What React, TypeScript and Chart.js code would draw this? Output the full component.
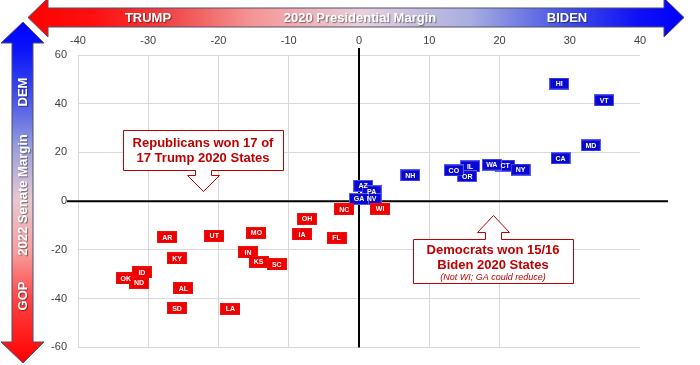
import React, { useEffect, useRef } from "react";
import { Chart, registerables } from "chart.js";

Chart.register(...registerables);

// ---------- data ----------
const redStates = ["OK", "ID", "ND", "AR", "KY", "AL", "SD", "UT", "LA", "MO", "IN", "KS", "SC", "OH", "IA", "FL", "NC", "WI"];
const redX = [-33.2, -30.9, -31.3, -27.3, -25.9, -25.0, -25.9, -20.6, -18.3, -14.6, -15.8, -14.3, -11.7, -7.4, -8.1, -3.2, -2.1, 3.0];
const redY = [-31.7, -29.2, -33.5, -14.8, -23.5, -35.7, -43.9, -14.2, -44.2, -13.0, -21.0, -24.9, -25.9, -7.3, -13.6, -15.1, -3.3, -3.0];

const blueStates = ["AZ", "PA", "NV", "GA", "NH", "IL", "OR", "CO", "CT", "WA", "NY", "CA", "MD", "VT", "HI"];
const blueX = [0.6, 1.8, 1.8, 0.0, 7.3, 15.8, 15.4, 13.5, 20.8, 18.9, 23.0, 28.7, 33.0, 34.9, 28.5];
const blueY = [6.3, 4.1, 0.9, 0.9, 10.6, 14.3, 10.3, 12.6, 14.6, 15.0, 13.0, 17.6, 22.9, 41.4, 48.3];

const xTitle = "2020 Presidential Margin";
const xLeftLabel = "TRUMP";
const xRightLabel = "BIDEN";
const yTitle = "2022 Senate Margin";
const yTopLabel = "DEM";
const yBottomLabel = "GOP";
const repNote = ["Republicans won 17 of", "17 Trump 2020 States"];
const demNote = ["Democrats won 15/16", "Biden 2020 States"];
const demSubNote = "(Not WI; GA could reduce)";

const FONT = 'Arial, "Liberation Sans", sans-serif';
const NOTE_RED = "#c00000";

function makeBox(fill: string, stroke: string) {
  const c = document.createElement("canvas");
  c.width = 20;
  c.height = 12;
  const g = c.getContext("2d")!;
  g.fillStyle = fill;
  g.fillRect(0, 0, 20, 12);
  g.strokeStyle = stroke;
  g.lineWidth = 1;
  g.strokeRect(0.5, 0.5, 19, 11);
  return c;
}

function drawArrowsAndNotes(ctx: CanvasRenderingContext2D) {
  // ---- vertical arrow (left) ----
  ctx.save();
  const vg = ctx.createLinearGradient(0, 22, 0, 363);
  vg.addColorStop(0, "#0000ff");
  vg.addColorStop(0.08, "#0a14fa");
  vg.addColorStop(0.2, "#3a48ea");
  vg.addColorStop(0.37, "#9aa0dc");
  vg.addColorStop(0.52, "#e6c8d0");
  vg.addColorStop(0.67, "#f8a0a0");
  vg.addColorStop(0.82, "#ff4040");
  vg.addColorStop(1, "#ff0000");
  ctx.beginPath();
  ctx.moveTo(23, 22);
  ctx.lineTo(44, 43);
  ctx.lineTo(33, 43);
  ctx.lineTo(33, 342);
  ctx.lineTo(44, 342);
  ctx.lineTo(23, 363);
  ctx.lineTo(1, 342);
  ctx.lineTo(12, 342);
  ctx.lineTo(12, 43);
  ctx.lineTo(1, 43);
  ctx.closePath();
  ctx.fillStyle = vg;
  ctx.fill();
  ctx.strokeStyle = "#50506a";
  ctx.lineWidth = 1;
  ctx.stroke();
  ctx.restore();

  // ---- horizontal arrow (top) ----
  ctx.save();
  const hg = ctx.createLinearGradient(28, 0, 683, 0);
  hg.addColorStop(0, "#ff0000");
  hg.addColorStop(0.1, "#ff0f0f");
  hg.addColorStop(0.2, "#f03c3c");
  hg.addColorStop(0.34, "#f59494");
  hg.addColorStop(0.51, "#e8d0dc");
  hg.addColorStop(0.675, "#a8aee0");
  hg.addColorStop(0.82, "#4452e6");
  hg.addColorStop(0.93, "#1010f5");
  hg.addColorStop(1, "#0000ff");
  ctx.beginPath();
  ctx.moveTo(28, 17.5);
  ctx.lineTo(48, -2);
  ctx.lineTo(48, 8);
  ctx.lineTo(664, 8);
  ctx.lineTo(664, -2);
  ctx.lineTo(684, 17.5);
  ctx.lineTo(664, 37);
  ctx.lineTo(664, 27);
  ctx.lineTo(48, 27);
  ctx.lineTo(48, 37);
  ctx.closePath();
  ctx.strokeStyle = "#ffffff";
  ctx.lineWidth = 6;
  ctx.stroke();
  ctx.fillStyle = hg;
  ctx.fill();
  ctx.strokeStyle = "#50506a";
  ctx.lineWidth = 1;
  ctx.stroke();
  ctx.restore();

  // ---- arrow labels ----
  ctx.save();
  ctx.fillStyle = "#ffffff";
  ctx.font = `bold 13px ${FONT}`;
  ctx.textAlign = "center";
  ctx.textBaseline = "middle";
  ctx.shadowColor = "rgba(0,0,0,0.45)";
  ctx.shadowOffsetX = 1;
  ctx.shadowOffsetY = 1;
  ctx.shadowBlur = 1;
  ctx.fillText(xLeftLabel, 148, 18);
  ctx.fillText(xTitle, 360, 18);
  ctx.fillText(xRightLabel, 567, 18);
  const vText = (t: string, cx: number, cy: number) => {
    ctx.save();
    ctx.translate(cx, cy);
    ctx.rotate(-Math.PI / 2);
    ctx.fillText(t, 0, 0);
    ctx.restore();
  };
  vText(yTopLabel, 23, 92);
  vText(yTitle, 23, 195);
  vText(yBottomLabel, 23, 296);
  ctx.restore();

  // ---- callouts ----
  ctx.save();
  ctx.lineWidth = 1;
  ctx.strokeStyle = NOTE_RED;
  ctx.fillStyle = "#ffffff";
  // Republicans (down arrow)
  ctx.beginPath();
  ctx.moveTo(123.5, 130.5);
  ctx.lineTo(283.5, 130.5);
  ctx.lineTo(283.5, 170.5);
  ctx.lineTo(211.5, 170.5);
  ctx.lineTo(211.5, 175.5);
  ctx.lineTo(219.5, 175.5);
  ctx.lineTo(203.5, 191.5);
  ctx.lineTo(187.5, 175.5);
  ctx.lineTo(195.5, 175.5);
  ctx.lineTo(195.5, 170.5);
  ctx.lineTo(123.5, 170.5);
  ctx.closePath();
  ctx.fill();
  ctx.stroke();
  // Democrats (up arrow)
  ctx.beginPath();
  ctx.moveTo(413.5, 239.5);
  ctx.lineTo(485.5, 239.5);
  ctx.lineTo(485.5, 232.5);
  ctx.lineTo(477.5, 232.5);
  ctx.lineTo(493.5, 215.5);
  ctx.lineTo(509.5, 232.5);
  ctx.lineTo(501.5, 232.5);
  ctx.lineTo(501.5, 239.5);
  ctx.lineTo(573.5, 239.5);
  ctx.lineTo(573.5, 283.5);
  ctx.lineTo(413.5, 283.5);
  ctx.closePath();
  ctx.fill();
  ctx.stroke();

  ctx.fillStyle = NOTE_RED;
  ctx.textAlign = "center";
  ctx.textBaseline = "middle";
  ctx.font = `bold 13px ${FONT}`;
  ctx.fillText(repNote[0], 203, 143);
  ctx.fillText(repNote[1], 203, 158);
  ctx.fillText(demNote[0], 493, 250);
  ctx.fillText(demNote[1], 493, 265);
  ctx.font = `italic 9px ${FONT}`;
  ctx.fillText(demSubNote, 493, 277);
  ctx.restore();
}

const overlayPlugin = {
  id: "overlay",
  beforeDatasetsDraw(chart: any) {
    const { ctx, scales, chartArea } = chart;
    const x0 = scales.x.getPixelForValue(0);
    const y0 = scales.y.getPixelForValue(0);
    ctx.save();
    ctx.strokeStyle = "#000000";
    ctx.lineWidth = 2;
    ctx.beginPath();
    ctx.moveTo(x0, 48);
    ctx.lineTo(x0, chartArea.bottom);
    ctx.moveTo(67, y0);
    ctx.lineTo(668, y0);
    ctx.stroke();
    ctx.restore();
  },
  afterDatasetsDraw(chart: any) {
    // data labels drawn above all markers (like spreadsheet data labels)
    const ctx = chart.ctx;
    ctx.save();
    ctx.fillStyle = "#ffffff";
    ctx.font = `bold 7px ${FONT}`;
    ctx.textAlign = "center";
    ctx.textBaseline = "middle";
    const labelSets = [redStates, blueStates];
    labelSets.forEach((labels, di) => {
      const meta = chart.getDatasetMeta(di);
      meta.data.forEach((el: any, i: number) => {
        ctx.fillText(labels[i], el.x, el.y + 0.5);
      });
    });
    ctx.restore();
  },
  afterDraw(chart: any) {
    drawArrowsAndNotes(chart.ctx);
  },
};

export default function App() {
  const ref = useRef<HTMLCanvasElement | null>(null);

  useEffect(() => {
    if (!ref.current) return;
    const redBox = makeBox("#ee0000", "#f01010");
    const blueBox = makeBox("#0808d0", "#5a5af0");

    const chart = new Chart(ref.current, {
      type: "scatter",
      data: {
        datasets: [
          {
            label: "Trump states",
            data: redStates.map((_, i) => ({ x: redX[i], y: redY[i] })),
            pointStyle: redBox as any,
            pointRadius: 8,
            backgroundColor: "#ee0000",
          },
          {
            label: "Biden states",
            data: blueStates.map((_, i) => ({ x: blueX[i], y: blueY[i] })),
            pointStyle: blueBox as any,
            pointRadius: 8,
            backgroundColor: "#0808d0",
          },
        ],
      },
      options: {
        animation: false,
        responsive: false,
        layout: { padding: { left: 0, right: 60, top: 0, bottom: 8 } },
        plugins: {
          legend: { display: false },
          tooltip: { enabled: false },
        },
        scales: {
          x: {
            type: "linear",
            position: "top",
            min: -40,
            max: 40,
            afterFit: (s: any) => {
              s.height = 55;
            },
            border: { display: false },
            grid: {
              drawTicks: false,
              lineWidth: 1,
              color: (c: any) => {
                const v = c.tick ? c.tick.value : null;
                if (v === 0 || v === 30 || v === 40) return "rgba(0,0,0,0)";
                return "#d9d9d9";
              },
            },
            ticks: {
              stepSize: 10,
              padding: 7,
              color: "#404040",
              font: { family: FONT, size: 11 },
            },
          },
          y: {
            type: "linear",
            min: -60,
            max: 60,
            afterFit: (s: any) => {
              s.width = 78;
            },
            border: { display: false },
            grid: {
              drawTicks: false,
              lineWidth: 1,
              color: (c: any) => {
                const v = c.tick ? c.tick.value : null;
                if (v === 0) return "rgba(0,0,0,0)";
                return "#d9d9d9";
              },
            },
            ticks: {
              stepSize: 20,
              padding: 11,
              color: "#404040",
              font: { family: FONT, size: 11 },
            },
          },
        },
      },
      plugins: [overlayPlugin],
    });
    return () => chart.destroy();
  }, []);

  return (
    <div style={{ position: "absolute", left: 0, top: 0, width: 700, height: 365, background: "#ffffff" }}>
      <canvas ref={ref} width={700} height={365} style={{ display: "block", width: 700, height: 365 }} />
    </div>
  );
}
